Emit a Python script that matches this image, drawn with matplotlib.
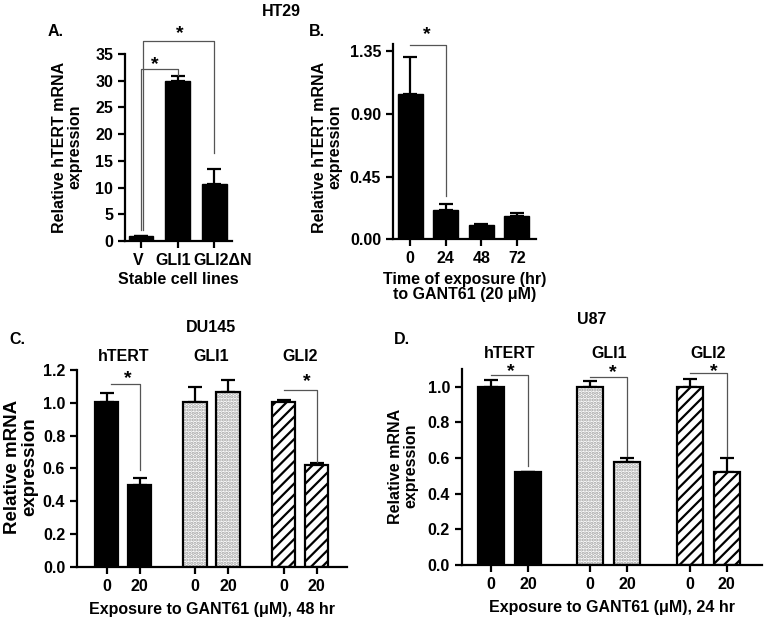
import matplotlib
matplotlib.use("Agg")
import matplotlib.pyplot as plt
import matplotlib.transforms as mtransforms
import numpy as np

plt.rcParams['font.family'] = ['Liberation Sans', 'DejaVu Sans']
plt.rcParams['font.weight'] = 'bold'
plt.rcParams['hatch.linewidth'] = 1.6

# ---------------- data ----------------
a_cats = ['V', 'GLI1', 'GLI2\u0394N']
a_vals = [1.0, 30.0, 10.7]
a_errs = [0.0, 0.9, 2.8]

b_cats = ['0', '24', '48', '72']
b_vals = [1.04, 0.21, 0.10, 0.17]
b_errs = [0.27, 0.04, 0.01, 0.015]

genes = ['hTERT', 'GLI1', 'GLI2']
doses = ['0', '20']
c_vals = [1.005, 0.50, 1.007, 1.064, 1.003, 0.62]
c_errs = [0.053, 0.043, 0.087, 0.075, 0.014, 0.01]
d_vals = [1.0, 0.52, 1.0, 0.576, 1.0, 0.52]
d_errs = [0.037, 0.0, 0.03, 0.025, 0.045, 0.08]

TXT = 11.5
W = 765
H = 619


def fx(px):
    return px / W


def fy(py):
    return 1 - py / H


fig = plt.figure(figsize=(7.65, 6.19), dpi=100)


def style(ax):
    for s in ['top', 'right']:
        ax.spines[s].set_visible(False)
    for s in ['left', 'bottom']:
        ax.spines[s].set_linewidth(1.6)
    ax.tick_params(width=1.6, length=5, labelsize=TXT)
    for lab in ax.get_xticklabels() + ax.get_yticklabels():
        lab.set_fontweight('bold')


def errs_up(ax, x, v, e, cap):
    ax.errorbar(x, v, yerr=[np.zeros(len(e)), e], fmt='none', ecolor='black',
                elinewidth=1.6, capsize=cap, capthick=1.6, zorder=1)


def bracket(ax, x0, x1, ytop, y0, y1):
    ax.plot([x0, x0, x1, x1], [y0, ytop, ytop, y1], color='#555555', lw=0.9,
            clip_on=False, zorder=3)


def star(ax, x, y):
    ax.text(x, y, '*', ha='center', va='center', fontsize=14, fontweight='bold',
            clip_on=False)


# ---------------- Panel A ----------------
axA = fig.add_axes([fx(125), fy(241), fx(232 - 125), (241 - 54) / H])
xa = np.arange(len(a_cats))
errs_up(axA, xa, a_vals, a_errs, 5)
axA.bar(xa, a_vals, width=0.68, color='black', edgecolor='black', zorder=2)
axA.set_xlim(-0.44, 2.49)
axA.set_ylim(0, 35)
axA.set_yticks(np.arange(0, 36, 5))
axA.set_xticks(xa)
axA.set_xticklabels(a_cats)
style(axA)
shifts = [-3, -4, 9]
for lab, sh in zip(axA.get_xticklabels(), shifts):
    lab.set_transform(lab.get_transform() +
                      mtransforms.ScaledTranslation(sh / 100, 0, fig.dpi_scale_trans))
axA.set_xlabel('Stable cell lines', fontsize=TXT, fontweight='bold', labelpad=3)
bracket(axA, 0, 1, 32.2, 2.0, 31.1)
bracket(axA, 0.05, 2, 37.4, 2.0, 16.5)
star(axA, 0.38, 33.0)
star(axA, 1.07, 38.8)

# ---------------- Panel B ----------------
axB = fig.add_axes([fx(393), fy(239.3), fx(536 - 393), (239.3 - 44) / H])
xb = np.arange(len(b_cats))
errs_up(axB, xb, b_vals, b_errs, 5)
axB.bar(xb, b_vals, width=0.7, color='black', edgecolor='black', zorder=2)
axB.set_xlim(-0.48, 3.54)
axB.set_ylim(0, 1.40)
axB.set_yticks([0, 0.45, 0.90, 1.35])
axB.set_yticklabels(['0.00', '0.45', '0.90', '1.35'])
axB.set_xticks(xb)
axB.set_xticklabels(b_cats)
style(axB)
axB.set_xlabel('Time of exposure (hr)\nto GANT61 (20 \u03bcM)', fontsize=TXT,
               fontweight='bold', labelpad=4, linespacing=1.05)
bracket(axB, 0, 1, 1.39, 1.39, 0.31)
star(axB, 0.47, 1.47)

# ---------------- Panels C and D ----------------
pos = np.array([0, 1, 2.67, 3.67, 5.35, 6.35])
fills = ['solid', 'solid', 'dots', 'dots', 'hatch', 'hatch']


def grouped(ax, vals, errs):
    errs_up(ax, pos, vals, errs, 5)
    for x, v, f in zip(pos, vals, fills):
        if f == 'solid':
            ax.bar(x, v, width=0.7, color='black', edgecolor='black', lw=1.6, zorder=2)
        elif f == 'dots':
            ax.bar(x, v, width=0.7, color='white', edgecolor='#a0a0a0', hatch='.....',
                   lw=0, zorder=2)
            ax.bar(x, v, width=0.7, fill=False, edgecolor='black', lw=1.6, zorder=2)
        else:
            ax.bar(x, v, width=0.7, color='white', edgecolor='black', hatch='///',
                   lw=1.6, zorder=2)
    ax.set_xticks(pos)
    ax.set_xticklabels(doses * 3)


axC = fig.add_axes([fx(77), fy(566.7), fx(347 - 77), (566.7 - 370) / H])
grouped(axC, c_vals, c_errs)
axC.set_xlim(-0.9, 7.27)
axC.set_ylim(0, 1.2)
axC.set_yticks(np.arange(0, 1.21, 0.2))
axC.set_yticklabels([f'{t:.1f}' for t in np.arange(0, 1.21, 0.2)])
style(axC)
axC.set_xlabel('Exposure to GANT61 (\u03bcM), 48 hr', fontsize=TXT, fontweight='bold', labelpad=6)
bracket(axC, 0.13, 1, 1.112, 1.112, 0.59)
bracket(axC, 5.37, 6.35, 1.078, 1.078, 0.64)
star(axC, 0.65, 1.15)
star(axC, 6.06, 1.13)

axD = fig.add_axes([fx(461.7), fy(565), fx(762 - 461.7), (565 - 369) / H])
grouped(axD, d_vals, d_errs)
axD.set_xlim(-0.79, 7.3)
axD.set_ylim(0, 1.1)
axD.set_yticks(np.arange(0, 1.01, 0.2))
axD.set_yticklabels([f'{t:.1f}' for t in np.arange(0, 1.01, 0.2)])
style(axD)
axD.set_xlabel('Exposure to GANT61 (\u03bcM), 24 hr', fontsize=TXT, fontweight='bold', labelpad=6)
bracket(axD, 0, 1, 1.064, 1.064, 0.553)
bracket(axD, 2.67, 3.67, 1.056, 1.056, 0.61)
bracket(axD, 5.35, 6.35, 1.075, 1.075, 0.61)
star(axD, 0.54, 1.085)
star(axD, 3.28, 1.08)
star(axD, 5.99, 1.087)

# group labels
fig.canvas.draw()
for ax, yy in [(axC, 356.7), (axD, 353)]:
    for i, g in enumerate(genes):
        xc = (pos[2 * i] + pos[2 * i + 1]) / 2
        xd = ax.transData.transform((xc, 0))[0]
        fig.text(xd / (fig.dpi * fig.get_figwidth()), fy(yy), g, ha='center', va='center',
                 fontsize=TXT, fontweight='bold')

# ---------------- figure texts ----------------
fig.text(fx(281), fy(12), 'HT29', ha='center', va='center', fontsize=TXT, fontweight='bold')
fig.text(fx(211), fy(327), 'DU145', ha='center', va='center', fontsize=TXT, fontweight='bold')
fig.text(fx(592), fy(320), 'U87', ha='center', va='center', fontsize=TXT, fontweight='bold')
fig.text(fx(56), fy(32), 'A.', ha='center', va='center', fontsize=TXT, fontweight='bold')
fig.text(fx(317), fy(32), 'B.', ha='center', va='center', fontsize=TXT, fontweight='bold')
fig.text(fx(17), fy(339), 'C.', ha='center', va='center', fontsize=TXT, fontweight='bold')
fig.text(fx(402), fy(339), 'D.', ha='center', va='center', fontsize=TXT, fontweight='bold')

fig.text(fx(67), fy(147), 'Relative hTERT mRNA\nexpression', rotation=90, ha='center',
         va='center', fontsize=TXT, fontweight='bold', multialignment='center', linespacing=1.0)
fig.text(fx(327), fy(147), 'Relative hTERT mRNA\nexpression', rotation=90, ha='center',
         va='center', fontsize=TXT, fontweight='bold', multialignment='center', linespacing=1.0)
fig.text(fx(21), fy(467), 'Relative mRNA\nexpression', rotation=90, ha='center',
         va='center', fontsize=13.5, fontweight='bold', multialignment='center', linespacing=1.0)
fig.text(fx(403), fy(466), 'Relative mRNA\nexpression', rotation=90, ha='center',
         va='center', fontsize=TXT, fontweight='bold', multialignment='center', linespacing=1.0)

fig.savefig('out.png', dpi=100)
